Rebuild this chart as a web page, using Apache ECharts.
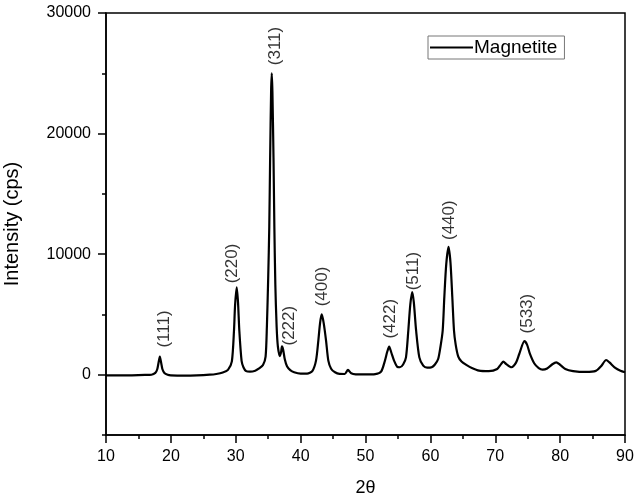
<!DOCTYPE html>
<html>
<head>
<meta charset="utf-8">
<script src="https://cdn.jsdelivr.net/npm/echarts@6/dist/echarts.min.js"></script>
<style>html,body{margin:0;padding:0;background:#fff;}#c{width:640px;height:501px;}</style>
</head>
<body>
<div id="c"></div>
<script>
const twoTheta = [10,12,14,16,17,17.6,17.9,18.1,18.3,18.5,18.7,19.0,19.5,20,22,24,26,27,28,28.8,29.4,29.73,29.9,30.15,30.35,30.55,30.9,31.2,31.6,32.2,33,33.6,34.2,34.6,34.8,35.0,35.17,35.3,35.45,35.55,35.65,35.82,35.95,36.1,36.3,36.5,36.8,37.0,37.12,37.3,37.55,37.9,38.4,39,40,41,41.8,42.37,42.73,43.0,43.25,43.55,43.92,44.27,44.7,45.3,46,46.8,47.3,47.8,48.5,50,51.5,52.4,53.0,53.35,53.65,54.0,54.4,54.9,55.3,55.8,56.24,56.6,56.9,57.2,57.45,57.8,58.3,58.9,59.5,60.2,60.7,61.2,61.55,61.9,62.15,62.45,62.8,63.1,63.38,63.64,63.9,64.3,64.8,65.6,66.4,67.5,69,70.3,70.9,71.25,71.7,72.5,73.2,73.7,74.5,74.9,75.35,76,76.7,77.3,78,78.8,79.4,80,80.8,82,84,85.5,86.3,87.1,87.6,88.5,89.3,90];
const intensity = [-50,-60,-50,-20,0,150,450,1000,1500,1000,450,150,0,-50,-80,-60,0,60,180,400,1100,3670,5800,7250,6000,3670,1150,600,300,250,330,520,800,1500,4000,8000,12300,18000,23500,25000,23500,18000,12300,7500,4000,2300,1550,1900,2350,2100,1300,700,380,200,90,90,300,1170,2830,4300,5000,4300,2830,1170,500,200,70,60,400,120,30,20,50,250,1170,1900,2330,1800,1170,650,620,850,1440,3670,5800,6860,6000,3670,1440,750,580,620,850,1300,2300,3670,6440,9200,10600,9300,6440,3670,2500,1500,1100,800,560,340,300,480,880,1080,880,620,1000,1720,2780,2500,1720,950,550,420,520,870,1030,820,470,300,230,320,700,1220,1020,560,320,200];
const peakNames = ['(111)','(220)','(311)','(222)','(400)','(422)','(511)','(440)','(533)'];
const labelX = [19.0,29.4,36.1,38.2,43.3,53.9,57.3,62.9,74.9];
const labelY = [2250,7580,25670,2420,5670,3000,7000,11170,3420];
const yMajorTicks = [0,10000,20000,30000];

const font = '"Liberation Sans", Arial, sans-serif';
const chart = echarts.init(document.getElementById('c'));
chart.setOption({
  animation: false,
  backgroundColor: '#fff',
  grid: {left: 106, right: 15, top: 13, bottom: 66, outerBoundsMode: 'none', containLabel: false,
    show: true, borderColor: '#000', borderWidth: 1.5, backgroundColor: 'transparent'},
  legend: {
    left: 428, top: 36, orient: 'vertical',
    data: [{name: 'Magnetite', icon: 'rect'}],
    itemWidth: 43, itemHeight: 2,
    itemStyle: {color: '#000'},
    borderColor: '#777', borderWidth: 1, padding: [2, 7, 2, 2],
    textStyle: {fontFamily: font, fontSize: 19, color: '#000', padding: [0,0,0,-4]}
  },
  xAxis: {
    type: 'value', min: 10, max: 90, interval: 10,
    name: '2θ', nameLocation: 'middle', nameGap: 44,
    nameTextStyle: {fontFamily: font, fontSize: 18, color: '#000'},
    axisLine: {show: true, onZero: false, lineStyle: {color: '#000', width: 1.5}},
    axisTick: {show: true, inside: false, length: 8, lineStyle: {color: '#000', width: 1.5}},
    minorTick: {show: true, splitNumber: 2, length: 4, lineStyle: {color: '#000', width: 1.5}},
    axisLabel: {fontFamily: font, fontSize: 16, color: '#000', margin: 14},
    splitLine: {show: false}
  },
  yAxis: [{
    type: 'value', min: -5000, max: 30000, interval: 5000,
    name: 'Intensity (cps)', nameLocation: 'middle', nameGap: 84,
    nameTextStyle: {fontFamily: font, fontSize: 20, color: '#000'},
    axisLine: {show: true, onZero: false, lineStyle: {color: '#000', width: 1.5}},
    axisTick: {show: true, inside: false, length: 4, lineStyle: {color: '#000', width: 1.5}},
    axisLabel: {fontFamily: font, fontSize: 16, color: '#000', margin: 15, customValues: yMajorTicks, formatter: v => String(v)},
    splitLine: {show: false}
  }, {
    type: 'value', min: -5000, max: 30000, interval: 5000, position: 'left',
    axisLine: {show: false, onZero: false},
    axisTick: {show: true, inside: false, length: 8, customValues: yMajorTicks, lineStyle: {color: '#000', width: 1.5}},
    axisLabel: {show: false},
    splitLine: {show: false}
  }],
  series: [{
    name: 'Magnetite', type: 'line',
    data: twoTheta.map((x, i) => [x, intensity[i]]),
    symbol: 'none', smooth: 0.25,
    lineStyle: {color: '#000', width: 2.2},
    itemStyle: {color: '#000'}
  }, {
    type: 'scatter', symbolSize: 0, silent: true,
    data: labelX.map((x, i) => ({value: [x, labelY[i]], name: peakNames[i]})),
    label: {show: true, formatter: '{b}', rotate: 90, position: 'inside', align: 'left', verticalAlign: 'middle',
      fontFamily: font, fontSize: 17, color: '#000'}
  }]
});
</script>
</body>
</html>
